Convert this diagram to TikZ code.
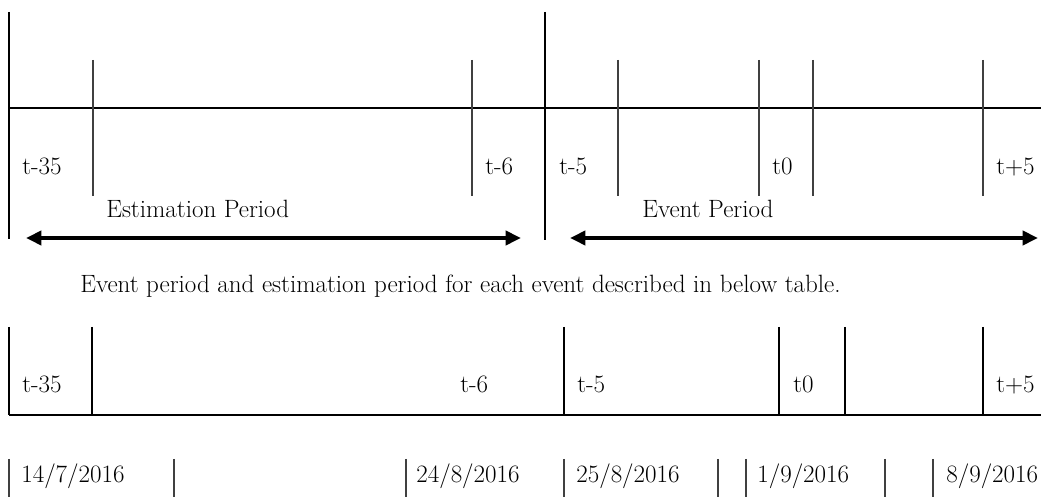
\documentclass[tikz,border=0pt]{standalone}
\usetikzlibrary{arrows.meta,positioning}

\begin{document}
\begin{tikzpicture}[x=0.025cm, y=-0.025cm,
    axisline/.style={black, line width=0.75pt},
    tickline/.style={black!75, line width=0.75pt},
    lbl/.style={anchor=base west, inner sep=0pt, font=\fontsize{17.8}{21}\selectfont},
    periodarrow/.style={line width=2.8pt,
      {Triangle[length=11pt,width=10pt]}-{Triangle[length=11pt,width=10pt]}}]

% === Canvas ===
\useasboundingbox (0,0) rectangle (1041,497);

% === Upper timeline ===
\draw[axisline] (9,108) -- (1041,108);
\draw[axisline] (9,12) -- (9,239);
\draw[axisline] (545,12) -- (545,240);
\draw[tickline] (93,60) -- (93,196);
\draw[tickline] (472,60) -- (472,196);
\draw[tickline] (618,60) -- (618,196);
\draw[tickline] (759,60) -- (759,196);
\draw[tickline] (813,60) -- (813,196);
\draw[tickline] (983,60) -- (983,196);

\node[lbl] (upA) at (22,175) {t-35};
\node[lbl] (upB) at (485,175) {t-6};
\node[lbl] (upC) at (559,175) {t-5};
\node[lbl] (upD) at (772,175) {t0};
\node[lbl] (upE) at (996,175) {t+5};

% === Period arrows ===
\node[lbl] (estlabel) at (106,218) {Estimation Period};
\node[lbl] (evtlabel) at (642,218) {Event Period};
\coordinate (estL) at (26,238);
\coordinate (estR) at (521,238);
\coordinate (evtL) at (570,238);
\coordinate (evtR) at (1038,238);
\draw[periodarrow] (estL) -- (estR);
\draw[periodarrow] (evtL) -- (evtR);

% === Caption ===
\node[lbl] (caption) at (80,293)
     {Event period and estimation period for each event described in below table.};

% === Lower timeline ===
\draw[axisline] (9,415) -- (1041,415);
\draw[axisline] (9,327) -- (9,415);
\draw[axisline] (92,327) -- (92,415);
\draw[axisline] (564,327) -- (564,415);
\draw[axisline] (779,327) -- (779,415);
\draw[axisline] (845,327) -- (845,415);
\draw[axisline] (983,327) -- (983,415);

\node[lbl] (lowA) at (22,393) {t-35};
\node[lbl] (lowB) at (460,393) {t-6};
\node[lbl] (lowC) at (577,393) {t-5};
\node[lbl] (lowD) at (793,393) {t0};
\node[lbl] (lowE) at (996,393) {t+5};

% === Dates row ===
\draw[tickline] (9,459) -- (9,497);
\draw[tickline] (174,459) -- (174,497);
\draw[tickline] (406,459) -- (406,497);
\draw[tickline] (564,459) -- (564,497);
\draw[tickline] (718,459) -- (718,497);
\draw[tickline] (746,459) -- (746,497);
\draw[tickline] (885,459) -- (885,497);
\draw[tickline] (933,459) -- (933,497);

\node[lbl] (dateA) at (21,483) {14/7/2016};
\node[lbl] (dateB) at (416,483) {24/8/2016};
\node[lbl] (dateC) at (576,483) {25/8/2016};
\node[lbl] (dateD) at (757,483) {1/9/2016};
\node[lbl] (dateE) at (946,483) {8/9/2016};

\end{tikzpicture}
\end{document}
